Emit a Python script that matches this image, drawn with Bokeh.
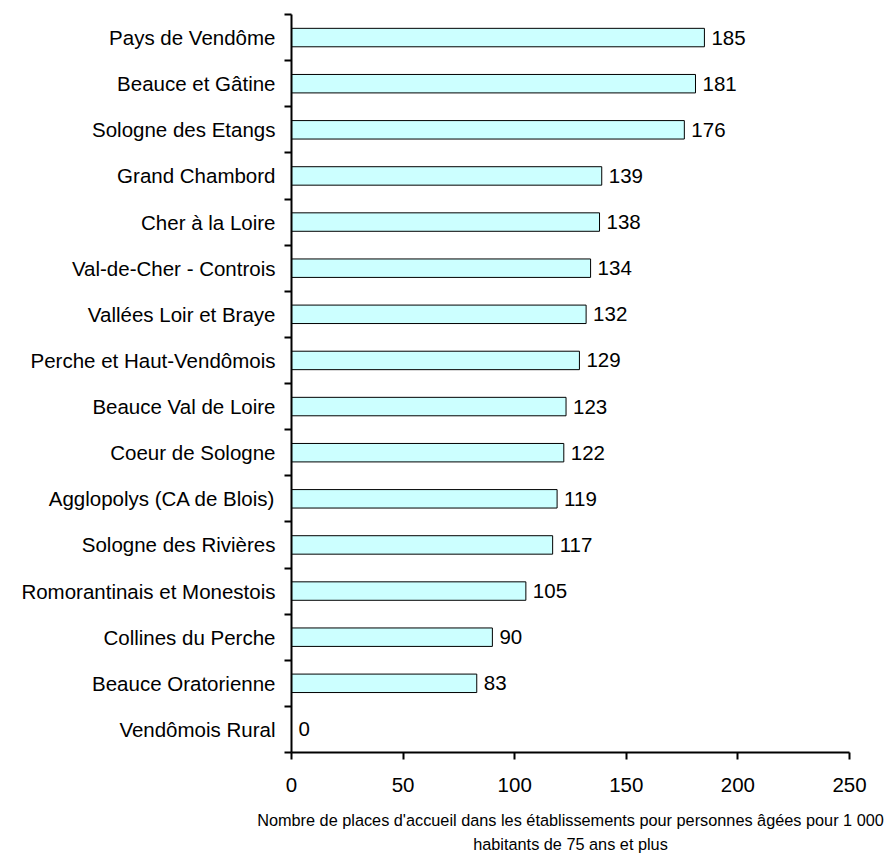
from bokeh.plotting import figure
from bokeh.models import ColumnDataSource, FixedTicker, Range1d
from bokeh.core.properties import value
from bokeh.embed import file_html
from bokeh.resources import INLINE

categories = ["Pays de Vendôme", "Beauce et Gâtine", "Sologne des Etangs", "Grand Chambord",
              "Cher à la Loire", "Val-de-Cher - Controis", "Vallées Loir et Braye",
              "Perche et Haut-Vendômois", "Beauce Val de Loire", "Coeur de Sologne",
              "Agglopolys (CA de Blois)", "Sologne des Rivières", "Romorantinais et Monestois",
              "Collines du Perche", "Beauce Oratorienne", "Vendômois Rural"]
values = [185, 181, 176, 139, 138, 134, 132, 129, 123, 122, 119, 117, 105, 90, 83, 0]
x_ticks = [0, 50, 100, 150, 200, 250]
x_title = "Nombre de places d'accueil dans les établissements pour personnes âgées pour 1 000\nhabitants de 75 ans et plus"

n = len(categories)
ypos = [n - i - 0.5 for i in range(n)]
src = ColumnDataSource(dict(y=ypos, v=values, lab=[str(v) for v in values], cat=categories))

FONT = "Liberation Sans"
FS = "20.5px"
p = figure(width=890, height=859, output_backend="svg", toolbar_location=None,
           x_range=Range1d(0, 250), y_range=Range1d(0, n),
           min_border_left=291, min_border_right=41, min_border_top=14, min_border_bottom=107)
p.outline_line_color = None
p.grid.grid_line_color = None

p.hbar(y="y", right="v", left=0, height=0.40, source=src,
       fill_color="#CCFFFF", line_color="black", line_width=1)
p.text(x="v", y="y", text="lab", source=src, x_offset=7, text_baseline="middle",
       text_font=value(FONT), text_font_size=FS, text_color="black")

p.xaxis.ticker = FixedTicker(ticks=x_ticks)
p.xaxis.axis_line_width = 2
p.xaxis.major_tick_line_width = 2
p.xaxis.major_tick_out = 7
p.xaxis.major_tick_in = 0
p.xaxis.minor_tick_line_color = None
p.xaxis.major_label_text_font = FONT
p.xaxis.major_label_text_font_size = FS
p.xaxis.major_label_text_color = "black"
p.xaxis.major_label_standoff = 18
p.xaxis.axis_label = x_title
p.xaxis.axis_label_text_font = FONT
p.xaxis.axis_label_text_font_size = "16.3px"
p.xaxis.axis_label_text_font_style = "normal"
p.xaxis.axis_label_text_color = "black"
p.xaxis.axis_label_text_line_height = 1.35
p.xaxis.axis_label_standoff = 16

p.yaxis.ticker = FixedTicker(ticks=ypos, minor_ticks=list(range(0, n + 1)))
p.yaxis.major_label_overrides = {y: c for y, c in zip(ypos, categories)}
p.yaxis.major_tick_line_color = None
p.yaxis.minor_tick_line_width = 2
p.yaxis.minor_tick_out = 7
p.yaxis.minor_tick_in = 0
p.yaxis.axis_line_width = 2
p.yaxis.major_label_text_font = FONT
p.yaxis.major_label_text_font_size = FS
p.yaxis.major_label_text_color = "black"
p.yaxis.major_label_standoff = 9

open("out.html", "w").write(file_html(p, INLINE))
